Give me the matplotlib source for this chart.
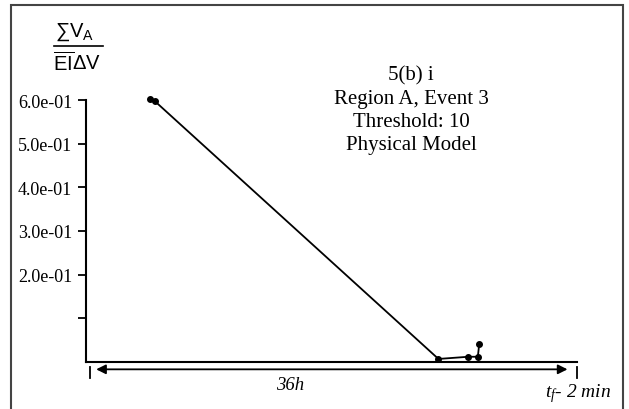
import matplotlib.pyplot as plt
from matplotlib.lines import Line2D
from matplotlib.patches import Rectangle

# hours into the 36h window and normalised volume ratio
hours = [4.55, 4.93, 25.8, 28.0, 28.7, 28.8]
ratio = [0.602, 0.597, 0.007, 0.012, 0.012, 0.041]

y_ticks = [0.1, 0.2, 0.3, 0.4, 0.5, 0.6]
y_tick_labels = ["", "2.0e-01", "3.0e-01", "4.0e-01", "5.0e-01", "6.0e-01"]

title_lines = ["5(b) i", "Region A, Event 3", "Threshold: 10", "Physical Model"]

W, H = 629, 410

plt.rcParams["font.family"] = ["Liberation Serif", "DejaVu Serif"]
plt.rcParams["mathtext.fontset"] = "custom"
plt.rcParams["mathtext.rm"] = "Liberation Sans"
plt.rcParams["mathtext.it"] = "Liberation Serif:italic"


def px(x, y):
    return x / W, 1 - y / H


fig = plt.figure(figsize=(W / 100, H / 100), dpi=100)

# outer frame
fig.add_artist(Rectangle(px(11, 412), (623 - 11) / W, (412 - 6) / H,
                         transform=fig.transFigure, fill=False,
                         edgecolor="#444444", linewidth=1.5))

ax = fig.add_axes([86 / W, (H - 363) / H, (577 - 86) / W, (363 - 101) / H])

ax.plot(hours, ratio, color="black", linewidth=1.3,
        marker="o", markersize=4, clip_on=False)

ax.set_xlim(-0.15, 36)
ax.set_ylim(0, 0.6)

ax.spines["top"].set_visible(False)
ax.spines["right"].set_visible(False)
ax.spines["left"].set_linewidth(1.5)
ax.spines["bottom"].set_linewidth(1.5)

ax.set_xticks([])
ax.set_yticks(y_ticks)
ax.set_yticklabels(y_tick_labels, fontsize=13)
ax.tick_params(axis="y", direction="out", length=6, width=1.3, pad=4)

# time span arrow under the axis
trans = ax.get_xaxis_transform()
ax.annotate("", xy=(0.6, -0.028), xytext=(35.3, -0.028),
            xycoords=trans, textcoords=trans,
            arrowprops=dict(arrowstyle="<|-|>", color="black", lw=1.3,
                            shrinkA=0, shrinkB=0, mutation_scale=14))
for x in [0.15, 36]:
    ax.plot([x, x], [-0.02, -0.06], transform=trans, color="black",
            linewidth=1.3, clip_on=False)

ax.text(14.9, -0.085, "36h", transform=trans, ha="center", va="center",
        fontsize=13.5, style="italic")
ax.text(36.1, -0.115, r"$t_f$- 2 min", transform=trans, ha="center",
        va="center", fontsize=14, style="italic")

for i, line in enumerate(title_lines):
    fig.text(*px(411, 76 + i * 23.3), line, ha="center", va="center",
             fontsize=15)

# y label as a fraction
fig.text(*px(75, 32), "\u2211" + r"$\mathrm{V_A}$", ha="center", va="center",
         fontsize=14.5, family=["Liberation Sans", "DejaVu Sans"])
fig.add_artist(Line2D([54 / W, 103 / W], [1 - 47 / H, 1 - 47 / H],
                      transform=fig.transFigure, color="black", linewidth=1.2))
fig.text(*px(77, 64), r"$\overline{\mathrm{EI}}\mathrm{\Delta V}$",
         ha="center", va="center", fontsize=14.5)

fig.savefig("out.png", dpi=100)
